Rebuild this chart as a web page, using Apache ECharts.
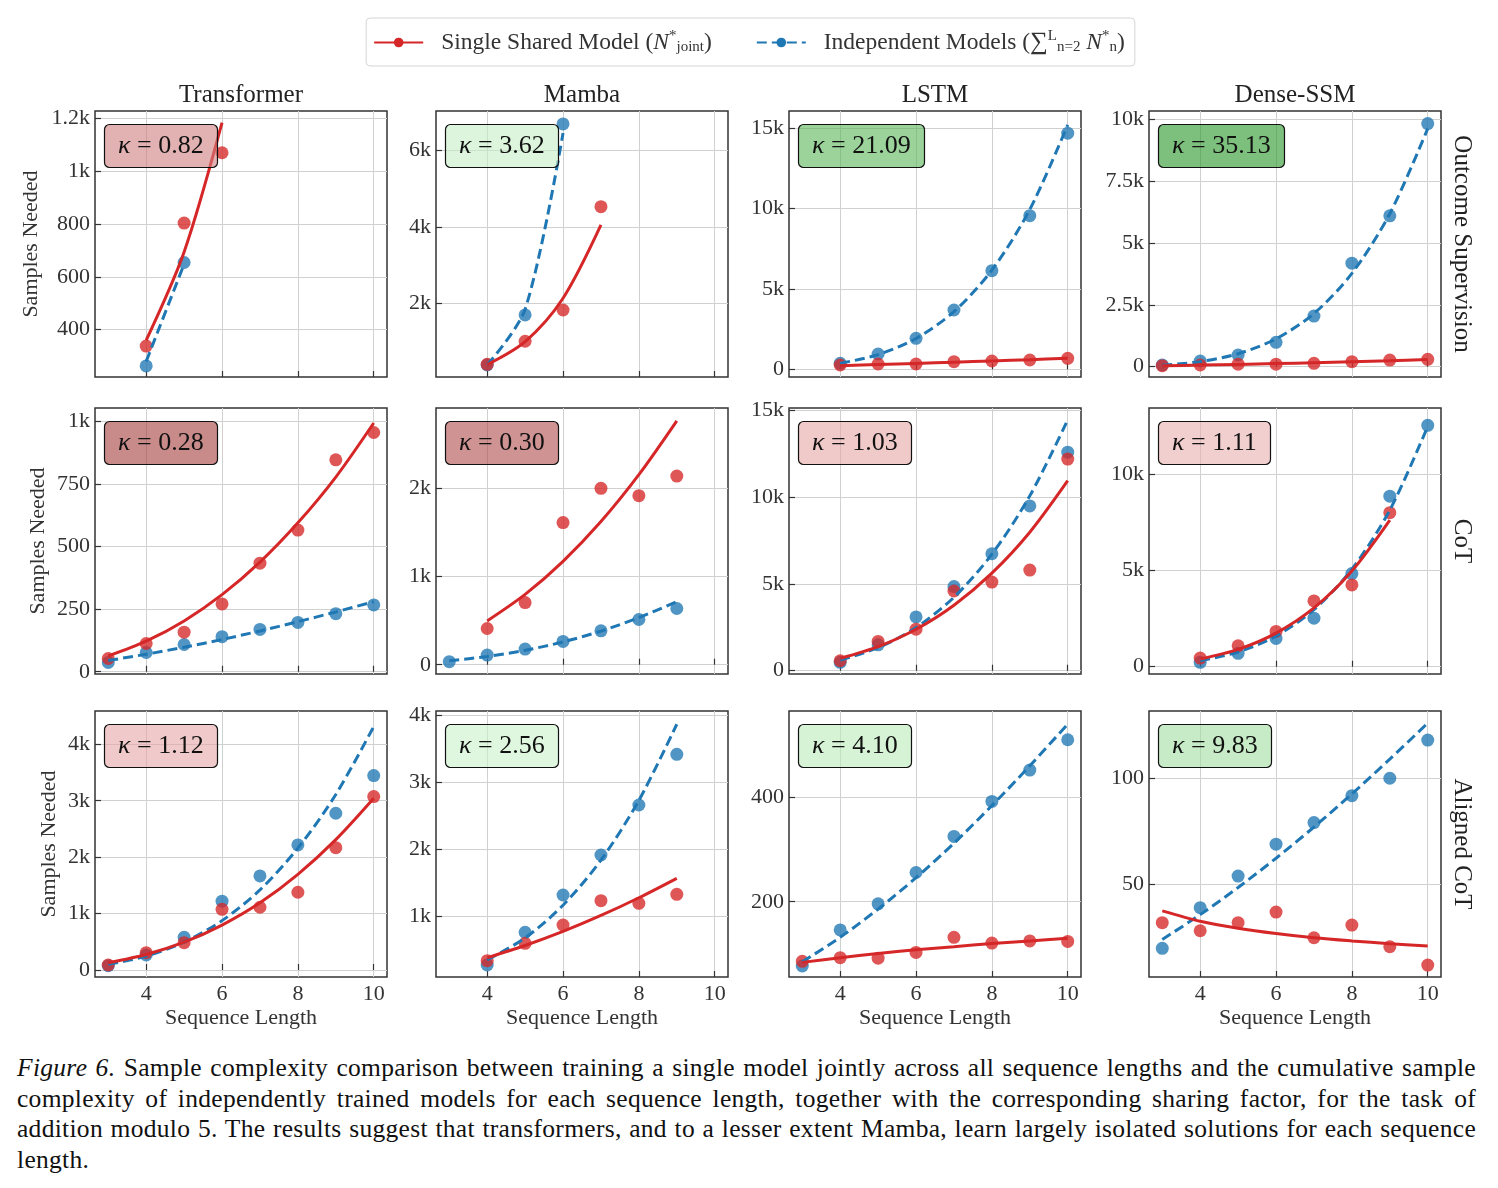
<!DOCTYPE html>
<html>
<head>
<meta charset="utf-8">
<script src="https://cdn.jsdelivr.net/npm/echarts@6/dist/echarts.min.js"></script>
<style>
  body { margin: 0; background: #fff; }
  #chart { width: 1498px; height: 1045px; }
  #caption {
    position: absolute; left: 17px; top: 1053px; width: 1459px;
    font-family: "Liberation Serif", serif; font-size: 25.5px; letter-spacing: 0.3px;
    line-height: 30.5px; text-align: justify; color: #111;
  }
</style>
</head>
<body>
<div id="chart"></div>
<div id="caption"><i>Figure 6.</i> Sample complexity comparison between training a single model jointly across all sequence lengths and the cumulative sample complexity of independently trained models for each sequence length, together with the corresponding sharing factor, for the task of addition modulo 5. The results suggest that transformers, and to a lesser extent Mamba, learn largely isolated solutions for each sequence length.</div>
<script>
var seqLen = [3, 4, 5, 6, 7, 8, 9, 10];
var models = ['Transformer', 'Mamba', 'LSTM', 'Dense-SSM'];
var regimes = ['Outcome Supervision', 'CoT', 'Aligned CoT'];

// measured samples needed, one list per model (Transformer, Mamba, LSTM, Dense-SSM)
var outcomeJoint = [
    [null, 338, 803, 1069, null, null, null, null],
    [null, 422, 1021, 1836, 4526, null, null, null],
    [null, 268, 330, 330, 473, 517, 579, 683],
    [40, 69, 103, 103, 137, 202, 269, 296]
];
var outcomeIndep = [
    [null, 263, 654, null, null, null, null, null],
    [null, 404, 1706, 6680, null, null, null, null],
    [null, 374, 953, 1930, 3692, 6139, 9564, 14695],
    [69, 230, 472, 984, 2044, 4181, 6089, 9815]
];
var cotJoint = [
    [53, 113, 158, 271, 434, 566, 847, 956],
    [null, 410, 703, 1609, 1996, 1913, 2135, null],
    [null, 575, 1690, 2397, 4598, 5115, 5805, 12207],
    [null, 450, 1086, 1831, 3413, 4240, 7984, null]
];
var cotIndep = [
    [37, 77, 109, 140, 169, 197, 232, 267],
    [34, 109, 177, 264, 383, 512, 636, null],
    [null, 483, 1494, 3103, 4851, 6747, 9506, 12609],
    [null, 228, 693, 1469, 2518, 4830, 8842, 12513]
];
var alignedJoint = [
    [89, 307, 484, 1076, 1112, 1378, 2168, 3073],
    [null, 343, 603, 876, 1239, 1200, 1334, null],
    [86, 93, 92, 103, 132, 121, 125, 124],
    [31.9, 28.1, 31.9, 36.9, 24.8, 30.8, 20.6, 11.9]
];
var alignedIndep = [
    [76, 266, 580, 1219, 1667, 2216, 2778, 3445],
    [null, 279, 767, 1324, 1921, 2667, 3424, null],
    [77, 146, 196, 256, 325, 392, 452, 510],
    [19.8, 39, 53.9, 68.9, 79.1, 91.8, 100, 118]
];

// fitted curves at each sequence length
var outcomeJointFit = [
    [null, 360, 694, 1183, null, null, null, null],
    [null, 410, 1009, 2141, 4049, null, null, null],
    [null, 224, 294, 367, 443, 521, 601, 683],
    [40, 64, 93, 125, 161, 201, 244, 290]
];
var outcomeIndepFit = [
    [null, 280, 648, null, null, null, null, null],
    [null, 404, 1854, 6445, null, null, null, null],
    [null, 370, 916, 1921, 3590, 6174, 9950, 15212],
    [61, 205, 523, 1125, 2146, 3766, 6176, 9613]
];
var cotJointFit = [
    [63, 122, 203, 308, 438, 595, 778, 994],
    [null, 496, 796, 1170, 1620, 2150, 2759, null],
    [null, 713, 1387, 2389, 3779, 5626, 7990, 10960],
    [null, 398, 895, 1740, 3046, 4963, 7601, null]
];
var cotIndepFit = [
    [45, 70, 98, 129, 163, 200, 239, 280],
    [45, 93, 163, 258, 380, 533, 715, null],
    [null, 615, 1329, 2490, 4237, 6722, 10087, 14466],
    [null, 310, 762, 1588, 2960, 5059, 8117, 12461]
];
var alignedJointFit = [
    [129, 275, 493, 796, 1190, 1695, 2311, 3044],
    [null, 388, 570, 780, 1018, 1283, 1573, null],
    [84, 93, 101, 108, 114, 120, 125, 130],
    [37.5, 32.6, 29.3, 26.8, 24.8, 23.3, 22.0, 20.9]
];
var alignedIndepFit = [
    [100, 246, 495, 875, 1420, 2160, 3110, 4314],
    [null, 354, 683, 1172, 1845, 2736, 3872, null],
    [85, 132, 186, 246, 312, 384, 460, 540],
    [24, 35.7, 48.5, 62.3, 77, 92.6, 109, 126]
];

var kappaOutcome = [0.82, 3.62, 21.09, 35.13];
var kappaCot = [0.28, 0.30, 1.03, 1.11];
var kappaAligned = [1.12, 2.56, 4.10, 9.83];

// y axis ranges and ticks per panel
var yRangeOutcome = [[221, 1227], [91, 7016], [-479, 16077], [-416, 10323]];
var yRangeCot = [[-9, 1054], [-105, 2905], [-190, 15155], [-378, 13413]];
var yRangeAligned = [[-124, 4590], [100, 4070], [56, 565], [6.3, 131.7]];
var yTicksOutcome = [[400, 600, 800, 1000, 1200], [2000, 4000, 6000], [0, 5000, 10000, 15000], [0, 2500, 5000, 7500, 10000]];
var yTicksCot = [[0, 250, 500, 750, 1000], [0, 1000, 2000], [0, 5000, 10000, 15000], [0, 5000, 10000]];
var yTicksAligned = [[0, 1000, 2000, 3000, 4000], [1000, 2000, 3000, 4000], [200, 400], [50, 100]];
var xTicks = [4, 6, 8, 10];

var FONT = '"Liberation Serif", "DejaVu Serif", serif';
var RED = '#d62728';
var BLUE = '#1f77b4';
var JOINT_NAME = 'Single Shared Model';
var INDEP_NAME = 'Independent Models';

var kappaColors = [
    ['rgba(207,125,125,0.6)', 'rgba(197,238,197,0.6)', 'rgba(88,182,88,0.6)', 'rgba(38,150,38,0.6)'],
    ['rgba(165,60,60,0.6)', 'rgba(175,75,75,0.6)', 'rgba(230,165,165,0.6)', 'rgba(233,175,175,0.6)'],
    ['rgba(230,167,167,0.6)', 'rgba(202,242,202,0.6)', 'rgba(187,235,187,0.6)', 'rgba(160,222,160,0.6)']
];

var joint = [outcomeJoint, cotJoint, alignedJoint];
var indep = [outcomeIndep, cotIndep, alignedIndep];
var jointFit = [outcomeJointFit, cotJointFit, alignedJointFit];
var indepFit = [outcomeIndepFit, cotIndepFit, alignedIndepFit];
var kappas = [kappaOutcome, kappaCot, kappaAligned];
var yRanges = [yRangeOutcome, yRangeCot, yRangeAligned];
var yTicks = [yTicksOutcome, yTicksCot, yTicksAligned];

var gridLefts = [95, 436, 789, 1149];
var gridTops = [111, 408, 711];
var yNameGaps = [53, 46, 35];

function pairs(vals) {
    var out = [];
    vals.forEach(function (v, i) {
        if (v !== null) out.push([seqLen[i], v]);
    });
    return out;
}

function kfmt(v) {
    if (Math.abs(v) >= 1000) return (v / 1000) + 'k';
    return String(v);
}

var grids = [], xAxes = [], yAxes = [], series = [], titles = [];

for (var r = 0; r < 3; r++) {
    for (var c = 0; c < 4; c++) {
        var idx = r * 4 + c;
        grids.push({
            left: gridLefts[c], top: gridTops[r], width: 292, height: 266,
            show: true, borderColor: '#333', borderWidth: 1.5,
            backgroundColor: 'rgba(0,0,0,0)', containLabel: false, outerBoundsMode: 'none'
        });
        xAxes.push({
            type: 'value', gridIndex: idx, min: 2.65, max: 10.35,
            name: r === 2 ? 'Sequence Length' : '',
            nameLocation: 'middle', nameGap: 30,
            nameTextStyle: { fontFamily: FONT, fontSize: 22, color: '#333' },
            axisLine: { show: false },
            axisTick: { show: true, inside: true, length: 6, customValues: xTicks, lineStyle: { color: '#333', width: 1.2 } },
            axisLabel: { show: r === 2, customValues: xTicks, margin: 6, fontFamily: FONT, fontSize: 22, color: '#333' },
            splitLine: { show: true, lineStyle: { color: '#d0d0d0', width: 1 } }
        });
        yAxes.push({
            type: 'value', gridIndex: idx, min: yRanges[r][c][0], max: yRanges[r][c][1],
            name: c === 0 ? 'Samples Needed' : '',
            nameLocation: 'middle', nameGap: yNameGaps[r],
            nameTextStyle: { fontFamily: FONT, fontSize: 22, color: '#333' },
            axisLine: { show: false },
            axisTick: { show: true, inside: true, length: 6, customValues: yTicks[r][c], lineStyle: { color: '#333', width: 1.2 } },
            axisLabel: { customValues: yTicks[r][c], formatter: kfmt, margin: 5, fontFamily: FONT, fontSize: 22, color: '#333' },
            splitLine: { show: true, lineStyle: { color: '#d0d0d0', width: 1 } }
        });
        series.push({
            type: 'scatter', name: 'indep-pts', xAxisIndex: idx, yAxisIndex: idx,
            data: pairs(indep[r][c]), symbolSize: 13,
            itemStyle: { color: BLUE, opacity: 0.78 }, z: 2
        });
        series.push({
            type: 'scatter', name: 'joint-pts', xAxisIndex: idx, yAxisIndex: idx,
            data: pairs(joint[r][c]), symbolSize: 13,
            itemStyle: { color: RED, opacity: 0.78 }, z: 2
        });
        series.push({
            type: 'line', name: INDEP_NAME, xAxisIndex: idx, yAxisIndex: idx,
            data: pairs(indepFit[r][c]), smooth: 0.3,
            symbol: 'circle', symbolSize: 8, showSymbol: false,
            lineStyle: { color: BLUE, width: 3, type: [10, 5] },
            itemStyle: { color: BLUE }, z: 3
        });
        series.push({
            type: 'line', name: JOINT_NAME, xAxisIndex: idx, yAxisIndex: idx,
            data: pairs(jointFit[r][c]), smooth: 0.3,
            symbol: 'circle', symbolSize: 8, showSymbol: false,
            lineStyle: { color: RED, width: 3 },
            itemStyle: { color: RED }, z: 4
        });
        titles.push({
            text: '{k|κ} = ' + kappas[r][c].toFixed(2),
            left: gridLefts[c] + 9, top: gridTops[r] + 13,
            padding: [9, 14, 9, 14],
            backgroundColor: kappaColors[r][c],
            borderColor: '#111', borderWidth: 1.2, borderRadius: 5,
            textStyle: {
                fontFamily: FONT, fontSize: 26, fontWeight: 'normal', color: '#111',
                rich: { k: { fontFamily: FONT, fontStyle: 'italic', fontSize: 26, color: '#111' } }
            }
        });
    }
}

var graphics = [];
models.forEach(function (m, c) {
    graphics.push({
        type: 'text', x: gridLefts[c] + 146, y: 95,
        style: { text: m, textAlign: 'center', textVerticalAlign: 'middle', fontFamily: FONT, fontSize: 25, fill: '#222' }
    });
});
regimes.forEach(function (name, r) {
    graphics.push({
        type: 'text', x: 1462, y: gridTops[r] + 133, rotation: -Math.PI / 2,
        style: { text: name, textAlign: 'center', textVerticalAlign: 'middle', fontFamily: FONT, fontSize: 25, fill: '#222' }
    });
});

var subRich = {
    it: { fontFamily: FONT, fontStyle: 'italic', fontSize: 23.5, color: '#333' },
    sup: { fontFamily: FONT, fontSize: 15, color: '#333', padding: [0, 0, 12, 0] },
    sub: { fontFamily: FONT, fontSize: 15, color: '#333', padding: [10, 0, 0, 0] },
    sum: { fontFamily: FONT, fontSize: 25, color: '#333' }
};

var myChart = echarts.init(document.getElementById('chart'));

var option = {
    animation: false,
    textStyle: { fontFamily: FONT },
    title: titles,
    legend: {
        data: [JOINT_NAME, INDEP_NAME],
        left: 'center', top: 18,
        padding: [11, 10, 11, 7],
        itemGap: 44, itemWidth: 49, itemHeight: 12,
        borderColor: '#d5d5d5', borderWidth: 1, borderRadius: 4,
        textStyle: { fontFamily: FONT, fontSize: 23.5, color: '#333', padding: [0, 0, 0, 13], rich: subRich },
        formatter: function (name) {
            if (name === JOINT_NAME) return 'Single Shared Model ({it|N}{sup|*}{sub|joint})';
            return 'Independent Models ({sum|∑}{sup|L}{sub|n=2} {it|N}{sup|*}{sub|n})';
        }
    },
    grid: grids,
    xAxis: xAxes,
    yAxis: yAxes,
    series: series,
    graphic: graphics
};

myChart.setOption(option);
</script>
</body>
</html>
